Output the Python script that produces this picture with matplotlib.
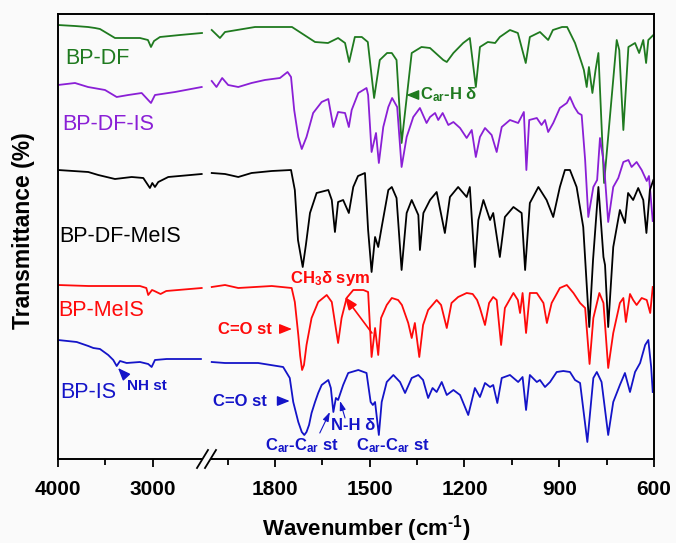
import numpy as np
import matplotlib.pyplot as plt

plt.rcParams['font.family'] = ['Liberation Sans', 'DejaVu Sans']
plt.rcParams['mathtext.fontset'] = 'custom'
plt.rcParams['mathtext.rm'] = 'Liberation Sans'
plt.rcParams['mathtext.bf'] = 'Liberation Sans:bold'
plt.rcParams['mathtext.it'] = 'Liberation Sans:italic'

# FTIR spectra. wavenumber in cm-1, transmittance in
# arbitrary units (curves are stacked with offsets). "hi" = 4000-2500 part,
# "lo" = 2000-600 part (the axis is broken in between)

# BP-DF
bpdf_w_hi = [4000, 3821, 3684, 3611, 3558, 3400, 3137, 3053, 3021, 2989, 2926, 2716, 2484]
bpdf_t_hi = [434, 433, 432, 431, 430, 421, 421, 419, 412, 418, 422, 424, 426]
bpdf_w_lo = [2000, 1974, 1958, 1863, 1746, 1673, 1632, 1600, 1578, 1565, 1547, 1525, 1506, 1486, 1468,
             1445, 1430, 1415, 1399, 1367, 1336, 1309, 1267, 1256, 1235, 1204, 1183, 1164, 1151, 1126,
             1103, 1088, 1056, 1031, 1006, 993, 961, 935, 920, 891, 875, 850, 829, 822, 813,
             806, 795, 785, 776, 758, 718, 710, 697, 681, 660, 647, 634, 625, 618, 602]
bpdf_t_lo = [429, 421, 427, 432, 432, 417, 416, 421, 416, 397, 422, 422, 417, 361, 399,
             406, 406, 399, 316, 406, 412, 411, 399, 397, 406, 416, 421, 372, 412, 417,
             416, 422, 429, 426, 396, 422, 427, 419, 429, 432, 432, 416, 396, 389, 372,
             392, 366, 389, 406, 276, 419, 409, 329, 412, 416, 406, 419, 396, 419, 424]

# BP-DF-IS
bpdfis_w_hi = [4000, 3821, 3684, 3505, 3382, 3260, 3119, 3021, 2979, 2768, 2487]
bpdfis_t_hi = [374, 376, 372, 369, 362, 364, 366, 356, 364, 367, 372]
bpdfis_w_lo = [2000, 1985, 1967, 1948, 1916, 1874, 1832, 1784, 1760, 1749, 1739, 1726, 1715, 1700, 1679,
               1652, 1631, 1615, 1600, 1578, 1566, 1557, 1536, 1510, 1505, 1494, 1480, 1471, 1457, 1441,
               1429, 1413, 1399, 1383, 1362, 1341, 1320, 1309, 1293, 1283, 1269, 1251, 1235, 1214, 1193,
               1177, 1164, 1151, 1135, 1114, 1098, 1082, 1056, 1030, 1012, 1004, 995, 971, 956, 945,
               935, 919, 898, 876, 866, 852, 840, 829, 818, 808, 792, 780, 771, 758, 745,
               729, 713, 697, 681, 671, 655, 639, 623, 616, 604]
bpdfis_t_lo = [378, 372, 381, 374, 372, 376, 379, 381, 387, 382, 349, 322, 310, 322, 346,
               357, 360, 332, 347, 346, 332, 349, 366, 371, 364, 307, 326, 296, 332, 352,
               361, 352, 292, 322, 342, 351, 336, 342, 346, 339, 346, 334, 337, 331, 321,
               329, 302, 322, 331, 324, 307, 332, 339, 336, 347, 289, 339, 341, 334, 339,
               327, 336, 351, 356, 362, 352, 346, 344, 299, 242, 272, 279, 321, 294, 237,
               272, 281, 297, 299, 292, 297, 289, 278, 283, 238]

# BP-DF-MeIS
bpdfmeis_w_hi = [4000, 3681, 3576, 3400, 3224, 3102, 3032, 3007, 2979, 2944, 2839, 2487]
bpdfmeis_t_hi = [289, 287, 284, 280, 282, 281, 271, 276, 272, 277, 282, 285]
bpdfmeis_w_lo = [2000, 1958, 1916, 1874, 1810, 1749, 1737, 1727, 1712, 1702, 1689, 1668, 1631, 1620, 1610,
                 1600, 1584, 1566, 1552, 1537, 1515, 1505, 1494, 1483, 1473, 1462, 1441, 1430, 1415, 1399,
                 1383, 1367, 1346, 1341, 1330, 1309, 1288, 1262, 1246, 1220, 1193, 1183, 1167, 1156, 1140,
                 1119, 1109, 1088, 1072, 1045, 1019, 1008, 993, 966, 940, 919, 898, 882, 866, 845,
                 824, 805, 793, 776, 760, 755, 745, 729, 708, 692, 682, 666, 650, 634, 624,
                 613, 602]
bpdfmeis_t_lo = [286, 285, 282, 286, 288, 289, 269, 219, 192, 214, 246, 266, 269, 259, 227,
                 257, 259, 246, 272, 283, 286, 229, 187, 222, 212, 232, 269, 272, 261, 189,
                 246, 259, 244, 209, 246, 259, 267, 226, 262, 272, 262, 272, 192, 239, 259,
                 239, 246, 202, 242, 252, 246, 189, 256, 272, 259, 242, 272, 289, 289, 272,
                 232, 132, 199, 272, 202, 194, 132, 212, 249, 236, 266, 259, 271, 259, 226,
                 269, 279]

# BP-MeIS
bpmeis_w_hi = [4000, 3681, 3137, 3070, 3050, 3010, 2985, 2920, 2860, 2487]
bpmeis_t_hi = [174, 173, 173, 171, 164, 169, 168, 165, 168, 171]
bpmeis_w_lo = [2000, 1958, 1916, 1810, 1747, 1737, 1726, 1720, 1714, 1708, 1700, 1684, 1663, 1636, 1620,
               1600, 1589, 1573, 1552, 1520, 1505, 1494, 1483, 1473, 1464, 1446, 1430, 1410, 1398, 1378,
               1367, 1357, 1343, 1331, 1315, 1288, 1274, 1256, 1241, 1220, 1193, 1174, 1160, 1151, 1135,
               1122, 1109, 1098, 1084, 1072, 1045, 1031, 1024, 1016, 1005, 993, 971, 950, 939, 924,
               898, 876, 855, 834, 818, 804, 792, 773, 760, 745, 729, 708, 697, 689, 676,
               666, 655, 639, 623, 612, 604]
bpmeis_t_lo = [172, 174, 171, 173, 171, 157, 124, 103, 89, 94, 114, 141, 157, 164, 157,
               116, 141, 161, 169, 169, 167, 102, 131, 104, 141, 154, 161, 159, 154, 136,
               121, 136, 102, 134, 149, 159, 154, 131, 156, 162, 166, 165, 159, 151, 134,
               156, 162, 159, 114, 151, 166, 159, 146, 166, 126, 166, 166, 156, 136, 156,
               171, 174, 166, 156, 151, 95, 141, 166, 156, 91, 126, 156, 161, 137, 165,
               159, 154, 161, 159, 146, 172]

# BP-IS
bpis_w_hi = [4000, 3803, 3681, 3628, 3558, 3471, 3418, 3382, 3347, 3277, 3137, 3050, 3014, 2979, 2856, 2495]
bpis_t_hi = [119, 117, 113, 111, 110, 104, 99, 93, 98, 96, 97, 95, 92, 99, 100, 100]
bpis_w_lo = [2000, 1958, 1853, 1774, 1753, 1742, 1726, 1715, 1707, 1700, 1692, 1684, 1673, 1663, 1652,
             1631, 1623, 1615, 1607, 1600, 1584, 1568, 1536, 1510, 1497, 1490, 1483, 1471, 1462, 1446,
             1425, 1404, 1388, 1367, 1346, 1331, 1315, 1301, 1288, 1272, 1256, 1235, 1214, 1188, 1167,
             1151, 1135, 1119, 1109, 1096, 1082, 1056, 1030, 1016, 1005, 993, 971, 961, 945, 929,
             908, 887, 866, 850, 834, 811, 792, 781, 766, 745, 729, 708, 692, 676, 660,
             644, 628, 618, 609, 604]
bpis_t_lo = [97, 96, 96, 92, 81, 57, 37, 27, 24, 27, 34, 46, 57, 66, 74,
             79, 71, 47, 61, 59, 74, 86, 89, 86, 57, 54, 57, 24, 57, 77,
             84, 77, 66, 81, 84, 79, 61, 71, 67, 77, 64, 69, 64, 44, 71,
             62, 76, 72, 74, 56, 81, 84, 77, 82, 49, 84, 77, 79, 72, 77,
             87, 88, 87, 79, 76, 17, 81, 87, 77, 24, 57, 74, 86, 67, 87,
             96, 114, 119, 92, 67]

names = ['BP-DF', 'BP-DF-IS', 'BP-DF-MeIS', 'BP-MeIS', 'BP-IS']
colors = ['#1f7a1f', '#8a1fd6', '#000000', '#ff0a0a', '#1414c8']
spectra = [
    (bpdf_w_hi, bpdf_t_hi, bpdf_w_lo, bpdf_t_lo),
    (bpdfis_w_hi, bpdfis_t_hi, bpdfis_w_lo, bpdfis_t_lo),
    (bpdfmeis_w_hi, bpdfmeis_t_hi, bpdfmeis_w_lo, bpdfmeis_t_lo),
    (bpmeis_w_hi, bpmeis_t_hi, bpmeis_w_lo, bpmeis_t_lo),
    (bpis_w_hi, bpis_t_hi, bpis_w_lo, bpis_t_lo),
]
# where the sample names sit (wavenumber, transmittance) in the left part
name_pos = [(3926, 401), (3958, 335), (3990, 222), (3995, 149), (3979, 66)]

W, H = 676, 543
fig = plt.figure(figsize=(W / 100, H / 100), dpi=100, facecolor='#fafafa')
bot, hgt = 1 - 459 / H, 445 / H
ax1 = fig.add_axes([58 / W, bot, 149 / W, hgt])
ax2 = fig.add_axes([207 / W, bot, 447 / W, hgt])

for (whi, thi, wlo, tlo), c in zip(spectra, colors):
    ax1.plot(whi, thi, color=c, lw=1.3)
    ax2.plot(wlo, tlo, color=c, lw=1.3)

ax1.set_xlim(4000, 2431)
ax2.set_xlim(2015, 600)
for ax in (ax1, ax2):
    ax.set_ylim(0, 445)
    ax.set_yticks([])
    ax.set_facecolor('none')
    for s in ax.spines.values():
        s.set_linewidth(1.4)
    ax.tick_params(axis='x', which='major', length=6, width=1.3, pad=9, labelsize=15)
    ax.tick_params(axis='x', which='minor', length=4, width=1.3)

ax1.set_xticks([4000, 3000], labels=['4000', '3000'], fontweight='bold')
ax1.set_xticks([3500], minor=True)
ax2.set_xticks([1800, 1500, 1200, 900, 600], labels=['1800', '1500', '1200', '900', '600'], fontweight='bold')
ax2.set_xticks([1950, 1650, 1350, 1050, 750], minor=True)

ax1.spines['right'].set_visible(False)
ax2.spines['left'].set_visible(False)
ax1.spines['bottom'].set_bounds(4000, 2484)
ax2.spines['bottom'].set_bounds(2003, 600)

# axis break marks
for x0 in (197, 205):
    fig.add_artist(plt.Line2D([x0 / W, (x0 + 11) / W], [1 - 468 / H, 1 - 450 / H],
                              color='black', lw=1.3))

for name, c, (xw, yt) in zip(names, colors, name_pos):
    ax1.text(xw, yt, name, color=c, fontsize=15.5, ha='left', va='center')

fig.text(366 / W, 1 - 536 / H, r'Wavenumber (cm$^{\mathbf{‐1}}$)', ha='center', va='baseline',
         fontsize=16, fontweight='bold')
fig.text(24 / W, 1 - 231 / H, 'Transmittance (%)', rotation=90, ha='center', va='center',
         fontsize=16.5, fontweight='bold')

# band assignments
green, red, blue = colors[0], colors[3], colors[4]
head = dict(arrowstyle='-|>,head_length=0.75,head_width=0.3', shrinkA=0, shrinkB=0, lw=1)
thin = dict(arrowstyle='-|>,head_length=0.55,head_width=0.18', shrinkA=0, shrinkB=0, lw=0.8)

ax2.annotate('', xy=(1384, 364), xytext=(1350, 364), arrowprops=dict(head, color=green))
ax2.text(1340, 364, r'C$_{\mathbf{ar}}$-H δ', color=green, fontsize=12, fontweight='bold',
         ha='left', va='center')

ax2.text(1626, 180, r'CH$_{\mathbf{3}}$δ sym', color=red, fontsize=12, fontweight='bold',
         ha='center', va='center')
ax2.annotate('', xy=(1578, 162), xytext=(1493, 126), arrowprops=dict(head, color=red, lw=1.2))
ax2.text(1809, 130, 'C=O st', color=red, fontsize=12, fontweight='bold', ha='right', va='center')
ax2.annotate('', xy=(1746, 130), xytext=(1778, 130), arrowprops=dict(head, color=red))

ax2.text(1825, 58, 'C=O st', color=blue, fontsize=12, fontweight='bold', ha='right', va='center')
ax2.annotate('', xy=(1753, 58), xytext=(1785, 58), arrowprops=dict(head, color=blue))

ax1.text(3274, 73, 'NH st', color=blue, fontsize=11, fontweight='bold', ha='left', va='center')
ax1.annotate('', xy=(3368, 91), xytext=(3290, 83), arrowprops=dict(head, color=blue))

ax2.text(1832, 9, r'C$_{\mathbf{ar}}$-C$_{\mathbf{ar}}$ st', color=blue, fontsize=12,
         fontweight='bold', ha='left', va='baseline')
ax2.annotate('', xy=(1626, 47), xytext=(1658, 26), arrowprops=dict(thin, color=blue))
ax2.text(1623, 33, 'N-H δ', color=blue, fontsize=12, fontweight='bold', ha='left', va='center')
ax2.annotate('', xy=(1594, 58), xytext=(1578, 41), arrowprops=dict(thin, color=blue))
ax2.text(1544, 9, r'C$_{\mathbf{ar}}$-C$_{\mathbf{ar}}$ st', color=blue, fontsize=12,
         fontweight='bold', ha='left', va='baseline')

fig.savefig('out.png', dpi=100, facecolor=fig.get_facecolor())
